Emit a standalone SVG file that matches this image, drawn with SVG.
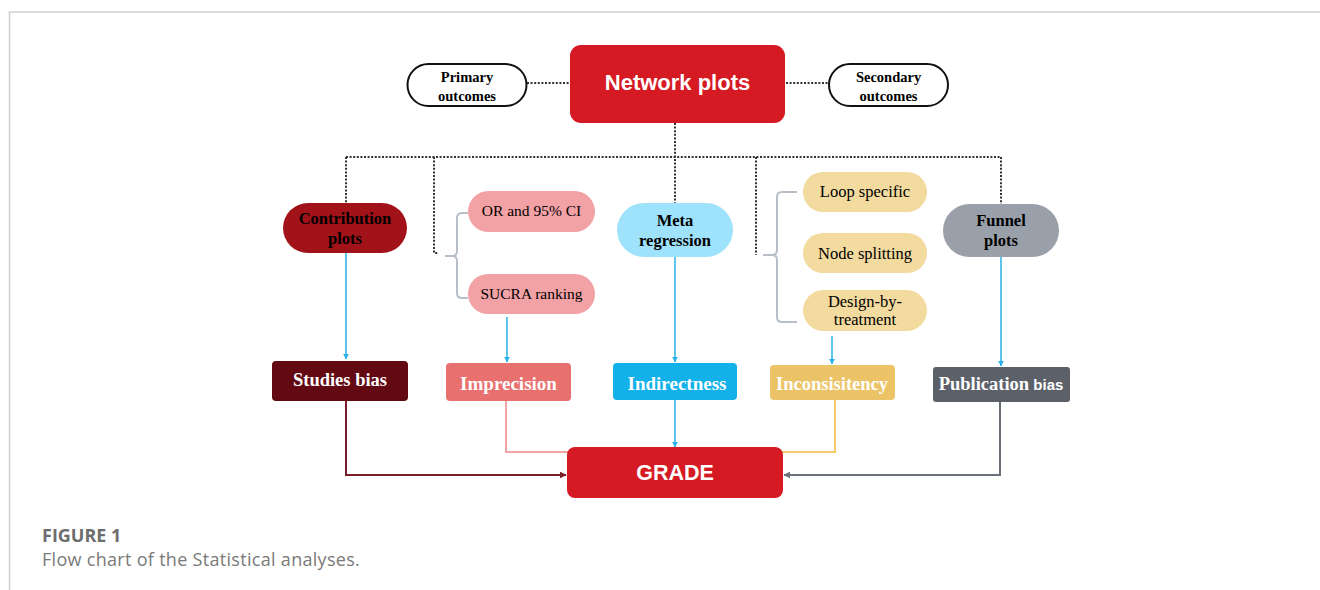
<svg xmlns="http://www.w3.org/2000/svg" width="1320" height="590" viewBox="0 0 1320 590">
<defs>
<style>
.frame{stroke:#cfcfcf;stroke-width:1.5;fill:none}
.dot{stroke:#333;stroke-width:2;stroke-dasharray:2 1.6;fill:none}
.brk{stroke:#b9bfc8;stroke-width:2;fill:none}
.blue{stroke:#29b0e8;stroke-width:1.5;fill:none}
.serif{font-family:"Liberation Serif","Times New Roman",serif;text-anchor:middle}
.sans{font-family:"Liberation Sans",Arial,sans-serif;text-anchor:middle}
.b{font-weight:bold}
.w{fill:#ffffff}
.k{fill:#000000}
.cap{font-family:"Open Sans","Noto Sans",sans-serif}
</style>
<marker id="aB" viewBox="0 0 10 10" refX="9" refY="5" markerWidth="6" markerHeight="6" markerUnits="userSpaceOnUse" orient="auto"><path d="M0,0 L10,5 L0,10 z" fill="#29b0e8"/></marker>
<marker id="aR" viewBox="0 0 10 10" refX="9" refY="5" markerWidth="7" markerHeight="7" markerUnits="userSpaceOnUse" orient="auto"><path d="M0,0 L10,5 L0,10 z" fill="#7a1f2a"/></marker>
<marker id="aG" viewBox="0 0 10 10" refX="9" refY="5" markerWidth="7" markerHeight="7" markerUnits="userSpaceOnUse" orient="auto"><path d="M0,0 L10,5 L0,10 z" fill="#6b717b"/></marker>
</defs>
<rect width="1320" height="590" fill="#ffffff"/>
<path class="frame" d="M9.5,590 V12 H1320"/>

<g id="connectors">
<path class="dot" d="M527,83 H570"/>
<path class="dot" d="M786,83 H829"/>
<path class="dot" d="M675,123 V203"/>
<path class="dot" d="M346,157 H1001"/>
<path class="dot" d="M346,157 V203"/>
<path class="dot" d="M434,157 V253 H438"/>
<path class="dot" d="M756,157 V255"/>
<path class="dot" d="M1001,157 V204"/>
<path class="brk" d="M468,213 H462 Q457,213 457,218 V251 Q457,256 452,256 H445 M452,256 Q457,256 457,261 V293 Q457,298 462,298 H468"/>
<path class="brk" d="M797,192 H782 Q777,192 777,197 V250 Q777,255 772,255 H763 M772,255 Q777,255 777,260 V317 Q777,322 782,322 H797"/>
<path class="blue" d="M346,253 V359" marker-end="url(#aB)"/>
<path class="blue" d="M507,317 V362" marker-end="url(#aB)"/>
<path class="blue" d="M675,257 V362" marker-end="url(#aB)"/>
<path class="blue" d="M832,336 V364" marker-end="url(#aB)"/>
<path class="blue" d="M1001,257 V366" marker-end="url(#aB)"/>
<path class="blue" d="M675,400 V447" marker-end="url(#aB)"/>
<path d="M346,401 V475 H566" stroke="#7a1f2a" stroke-width="2" fill="none" marker-end="url(#aR)"/>
<path d="M506,401 V452 H568" stroke="#f2a3a3" stroke-width="2" fill="none"/>
<path d="M835,400 V452 H782" stroke="#f5c96e" stroke-width="2" fill="none"/>
<path d="M1000,402 V475 H784" stroke="#6b717b" stroke-width="2" fill="none" marker-end="url(#aG)"/>
</g>

<g id="primary">
<rect x="407.5" y="64" width="119" height="42" rx="21" fill="#ffffff" stroke="#111" stroke-width="2"/>
<text class="serif b k" x="467" y="82" font-size="14.5">Primary</text>
<text class="serif b k" x="467" y="101" font-size="14.5">outcomes</text>
</g>
<g id="network">
<rect x="570" y="45" width="215" height="78" rx="11" fill="#d51a24"/>
<text class="sans b w" x="677.5" y="90" font-size="22">Network plots</text>
</g>
<g id="secondary">
<rect x="829" y="64" width="119" height="42" rx="21" fill="#ffffff" stroke="#111" stroke-width="2"/>
<text class="serif b k" x="888.5" y="82" font-size="14.5">Secondary</text>
<text class="serif b k" x="888.5" y="101" font-size="14.5">outcomes</text>
</g>

<g id="contribution">
<rect x="283" y="203" width="124" height="50" rx="25" fill="#a11219"/>
<text class="serif b k" x="345" y="224" font-size="16.5">Contribution</text>
<text class="serif b k" x="345" y="244" font-size="16.5">plots</text>
</g>
<g id="or-ci">
<rect x="468" y="191" width="127" height="41" rx="20.5" fill="#f2a1a5"/>
<text class="serif k" x="531.5" y="216" font-size="15.5">OR and 95% CI</text>
</g>
<g id="sucra">
<rect x="468" y="274" width="127" height="40" rx="20" fill="#f2a1a5"/>
<text class="serif k" x="531.5" y="299" font-size="15.5">SUCRA ranking</text>
</g>
<g id="meta">
<rect x="617" y="203" width="116" height="54" rx="27" fill="#9ee3fb"/>
<text class="serif b k" x="675" y="226" font-size="16.5">Meta</text>
<text class="serif b k" x="675" y="246" font-size="16.5">regression</text>
</g>
<g id="loop">
<rect x="803" y="172" width="124" height="40" rx="20" fill="#f3da9e"/>
<text class="serif k" x="865" y="197" font-size="16.5">Loop specific</text>
</g>
<g id="node-splitting">
<rect x="803" y="233" width="124" height="40" rx="20" fill="#f3da9e"/>
<text class="serif k" x="865" y="259" font-size="16.5">Node splitting</text>
</g>
<g id="design">
<rect x="803" y="290" width="124" height="41" rx="20.5" fill="#f3da9e"/>
<text class="serif k" x="865" y="307" font-size="16.5">Design-by-</text>
<text class="serif k" x="865" y="325" font-size="16.5">treatment</text>
</g>
<g id="funnel">
<rect x="943" y="204" width="116" height="53" rx="26.5" fill="#9aa0aa"/>
<text class="serif b k" x="1001" y="226" font-size="16.5">Funnel</text>
<text class="serif b k" x="1001" y="246" font-size="16.5">plots</text>
</g>

<g id="studies-bias">
<rect x="272" y="361" width="136" height="40" rx="4" fill="#620912"/>
<text class="serif b w" x="340" y="386" font-size="18.5">Studies bias</text>
</g>
<g id="imprecision">
<rect x="446" y="363" width="125" height="38" rx="4" fill="#e8706f"/>
<text class="serif b w" x="508.5" y="390" font-size="19">Imprecision</text>
</g>
<g id="indirectness">
<rect x="613" y="363" width="124" height="37" rx="4" fill="#12b1ea"/>
<text class="serif b w" x="677" y="390" font-size="19">Indirectness</text>
</g>
<g id="inconsistency">
<rect x="770" y="365" width="125" height="35" rx="4" fill="#ecc467"/>
<text class="serif b w" x="832" y="390" font-size="18.5">Inconsisitency</text>
</g>
<g id="publication">
<rect x="933" y="367" width="137" height="35" rx="3" fill="#5b6069"/>
<text x="1001" y="390" fill="#ffffff" font-weight="bold" text-anchor="middle"><tspan font-family="Liberation Serif,Times New Roman,serif" font-size="18.5">Publication</tspan><tspan font-family="Liberation Sans,Arial,sans-serif" font-size="15"> bias</tspan></text>
</g>

<g id="grade">
<rect x="567" y="447" width="216" height="51" rx="8" fill="#d51a24"/>
<text class="sans b w" x="675" y="480" font-size="21.5">GRADE</text>
</g>

<g id="caption">
<text class="cap" x="42" y="542" font-size="18" font-weight="bold" fill="#6d6d6d">FIGURE 1</text>
<text class="cap" x="42" y="566" font-size="18" letter-spacing="0.3" fill="#7a7a7a">Flow chart of the Statistical analyses.</text>
</g>
</svg>
